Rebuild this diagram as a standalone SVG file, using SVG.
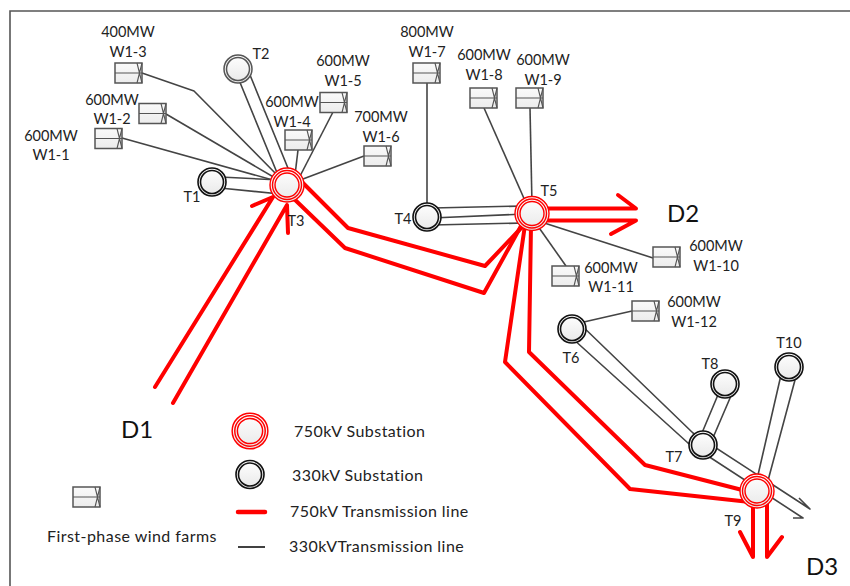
<svg xmlns="http://www.w3.org/2000/svg" width="850" height="586" viewBox="0 0 850 586">
<style>
text{font-family:"Lato","Open Sans",sans-serif;font-size:14.5px;fill:#222;text-anchor:middle}
text.l{text-anchor:start;font-size:16px;letter-spacing:.45px}
text.b{font-size:24px;fill:#111}
.k{fill:none;stroke:#444;stroke-width:1.6;stroke-linejoin:round}
.r{fill:none;stroke:#f00;stroke-width:4;stroke-linejoin:round;stroke-linecap:round}
.f{fill:url(#g)}
.wb{fill:url(#g2);stroke:#555;stroke-width:1.5}
.wl{fill:none;stroke:#555;stroke-width:1.1}
.rr{fill:none;stroke:#f00;stroke-width:1.4}
.bk{fill:none;stroke:#111;stroke-width:1.6}
.gy{fill:none;stroke:#555;stroke-width:1.5}
</style>
<defs>
<linearGradient id="g" x1="0" y1="0" x2="0" y2="1"><stop offset="0" stop-color="#fff"/><stop offset="1" stop-color="#e8e8e8"/></linearGradient>
<linearGradient id="g2" x1="0" y1="0" x2="0" y2="1"><stop offset="0" stop-color="#fafafa"/><stop offset="1" stop-color="#ececec"/></linearGradient>
<g id="wind"><rect class="wb" x="0" y="0" width="27" height="20"/><path class="wl" d="M0 10H27M22 0L27 20M27 0L22 20"/></g>
<g id="s330"><circle class="f" r="14"/><circle class="bk" r="14"/><circle class="bk" r="11.5"/></g>
<g id="s750"><circle class="f" r="17"/><circle class="rr" r="17"/><circle class="rr" r="14.5"/><circle class="rr" r="12"/></g>
</defs>
<rect width="850" height="586" fill="#fff"/>
<path d="M10 586V11H850" fill="none" stroke="#555" stroke-width="1.6"/>
<g id="connectors">
<path class="k" d="M142 73L194 91L280 178"/>
<path class="k" d="M166 114L282 182"/>
<path class="k" d="M122 138L280 182"/>
<path class="k" d="M220 177L280 180M220 188L280 194"/>
<path class="k" d="M239 80L280 180M250 75L292 178"/>
<path class="k" d="M298 150L295 175"/>
<path class="k" d="M333 112L298 180"/>
<path class="k" d="M364 156L295 182"/>
<path class="k" d="M427 83V210"/>
<path class="k" d="M484 108L530 212"/>
<path class="k" d="M530 108L532 205"/>
<path class="k" d="M432 208L525 206M432 218L525 214M432 225L525 223"/>
<path class="k" d="M653 258L535 220"/>
<path class="k" d="M566 266L535 222"/>
<path class="k" d="M632 311L575 324"/>
<path class="k" d="M578 322L693 433L810 509L799 498"/>
<path class="k" d="M572 338L688 443L803 518H793"/>
<path class="k" d="M720 390L699 440M733.500 390L712 440"/>
<path class="k" d="M781 375L755 488M795 380L766 488"/>
<path class="r" d="M155 387L273 197L252 206"/>
<path class="r" d="M173 403L287 205L288 233"/>
<path class="r" d="M300 180L348 228L485 266L523 226"/>
<path class="r" d="M290 195L345 248L484 293L521 226"/>
<path class="r" d="M540 208.500H636L618 195"/>
<path class="r" d="M540 220.500H636L611 234"/>
<path class="r" d="M531 225L529 352L645 465L750 492"/>
<path class="r" d="M525 225L505 362L630 489L750 502"/>
<path class="r" d="M753 500V557L740 532"/>
<path class="r" d="M767 500V557L782 537"/>
</g>
<g id="T1"><use href="#s330" x="212" y="182"/><text x="192" y="202">T1</text></g>
<g id="T2"><circle class="f" cx="238" cy="69" r="14"/><circle class="gy" cx="238" cy="69" r="14"/><circle class="gy" cx="238" cy="69" r="11.500"/><text x="261" y="59">T2</text></g>
<g id="T3"><use href="#s750" x="287" y="185"/><text x="296" y="226">T3</text></g>
<g id="T4"><use href="#s330" x="427" y="217"/><text x="403" y="224">T4</text></g>
<g id="T5"><use href="#s750" x="532" y="213.500"/><text x="549" y="196">T5</text></g>
<g id="T6"><use href="#s330" x="572" y="329"/><text x="571" y="363">T6</text></g>
<g id="T7"><use href="#s330" x="703" y="445"/><text x="674" y="462">T7</text></g>
<g id="T8"><use href="#s330" x="725" y="384"/><text x="710" y="369">T8</text></g>
<g id="T9"><use href="#s750" x="757" y="491"/><text x="733" y="526">T9</text></g>
<g id="T10"><use href="#s330" x="789" y="367"/><text x="789" y="348">T10</text></g>
<g id="W1-1"><use href="#wind" x="95" y="128.500"/><text x="51" y="141">600MW</text><text x="51" y="160">W1-1</text></g>
<g id="W1-2"><use href="#wind" x="139" y="103.500"/><text x="112" y="105">600MW</text><text x="112" y="124">W1-2</text></g>
<g id="W1-3"><use href="#wind" x="115" y="63"/><text x="128" y="37">400MW</text><text x="128" y="57">W1-3</text></g>
<g id="W1-4"><use href="#wind" x="285" y="130"/><text x="292" y="107">600MW</text><text x="292" y="127">W1-4</text></g>
<g id="W1-5"><use href="#wind" x="320" y="92.500"/><text x="343" y="66">600MW</text><text x="343" y="86">W1-5</text></g>
<g id="W1-6"><use href="#wind" x="364" y="146"/><text x="381" y="122">700MW</text><text x="381" y="142">W1-6</text></g>
<g id="W1-7"><use href="#wind" x="413" y="63"/><text x="427" y="37">800MW</text><text x="427" y="57">W1-7</text></g>
<g id="W1-8"><use href="#wind" x="470" y="88"/><text x="484" y="60">600MW</text><text x="484" y="80">W1-8</text></g>
<g id="W1-9"><use href="#wind" x="516" y="88"/><text x="543" y="65">600MW</text><text x="543" y="85">W1-9</text></g>
<g id="W1-10"><use href="#wind" x="653" y="247"/><text x="716" y="251">600MW</text><text x="716" y="271">W1-10</text></g>
<g id="W1-11"><use href="#wind" x="552" y="266"/><text x="611" y="273">600MW</text><text x="611" y="292">W1-11</text></g>
<g id="W1-12"><use href="#wind" x="632" y="301"/><text x="694" y="307">600MW</text><text x="694" y="327">W1-12</text></g>
<g id="regions"><text class="b" x="137" y="438">D1</text><text class="b" x="683" y="222">D2</text><text class="b" x="822" y="575">D3</text></g>
<g id="legend">
<use href="#wind" x="73" y="487"/><text class="l" x="47" y="542">First-phase wind farms</text>
<use href="#s750" x="250" y="431" transform="translate(250 431) scale(1.05) translate(-250 -431)"/><text class="l" x="294" y="437">750kV Substation</text>
<use href="#s330" x="250" y="474.500"/><text class="l" x="292" y="481">330kV Substation</text>
<path d="M238 512H265" fill="none" stroke="#f00" stroke-width="4.500" stroke-linecap="round"/><text class="l" x="290" y="517">750kV Transmission line</text>
<path d="M238 547H265" fill="none" stroke="#111" stroke-width="1.600"/><text class="l" x="289" y="552">330kVTransmission line</text>
</g>
</svg>
